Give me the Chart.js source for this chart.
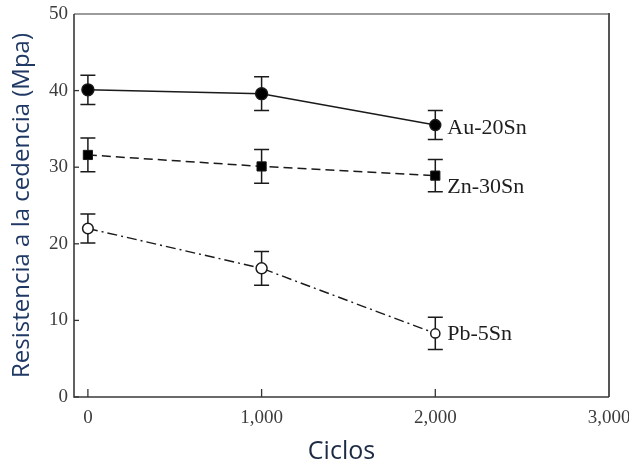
<!DOCTYPE html>
<html lang="es">
<head>
<meta charset="UTF-8">
<title>Resistencia a la cedencia vs ciclos</title>
<script src="https://cdn.jsdelivr.net/npm/chart.js"></script>
<style>
  html, body { margin: 0; padding: 0; background: #fff; }
  #wrap { width: 629px; height: 468px; }
</style>
</head>
<body>
<div id="wrap"><canvas id="chart" width="629" height="468"></canvas></div>
<script>
  // data: yield strength (MPa) after thermal cycles, with error bars
  const ciclos = [0, 1000, 2000];
  const au20sn = [40.1, 39.6, 35.5];
  const au20snErr = [1.9, 2.2, 1.9];
  const zn30sn = [31.6, 30.1, 28.9];
  const zn30snErr = [2.2, 2.2, 2.1];
  const pb5sn = [22.0, 16.8, 8.3];
  const pb5snErr = [1.9, 2.2, 2.1];
  const aleaciones = ['Au-20Sn', 'Zn-30Sn', 'Pb-5Sn'];
  const xTicks = [0, 1000, 2000, 3000];
  const yTicks = [0, 10, 20, 30, 40, 50];

  const ink = '#1a1a1a';
  const serif = 'Liberation Serif';

  function pts(vals) {
    return ciclos.map((c, i) => ({ x: c, y: vals[i] }));
  }

  // frame + inward tick marks + error bars, drawn under the points
  const extras = {
    id: 'extras',
    beforeDatasetsDraw(chart) {
      const { ctx, chartArea: a, scales } = chart;
      ctx.save();
      ctx.lineCap = 'butt';
      // frame
      ctx.lineWidth = 2;
      ctx.strokeStyle = '#9c9c9c';
      ctx.beginPath(); ctx.moveTo(a.left, a.top); ctx.lineTo(a.right, a.top); ctx.stroke();
      ctx.strokeStyle = '#555';
      ctx.beginPath(); ctx.moveTo(a.right, a.top - 1); ctx.lineTo(a.right, a.bottom); ctx.stroke();
      ctx.lineWidth = 1.6;
      ctx.strokeStyle = '#3a3a3a';
      ctx.beginPath(); ctx.moveTo(a.left, a.top); ctx.lineTo(a.left, a.bottom); ctx.lineTo(a.right, a.bottom); ctx.stroke();

      // ticks pointing into the plot
      ctx.lineWidth = 1.3;
      ctx.strokeStyle = '#333';
      scales.x.ticks.forEach(t => {
        const px = scales.x.getPixelForValue(t.value);
        if (px >= a.right - 1) return;
        ctx.beginPath(); ctx.moveTo(px, a.bottom); ctx.lineTo(px, a.bottom - 8); ctx.stroke();
      });
      scales.y.ticks.forEach(t => {
        const py = scales.y.getPixelForValue(t.value);
        if (py <= a.top + 1) return;
        ctx.beginPath(); ctx.moveTo(a.left, py); ctx.lineTo(a.left + 5, py); ctx.stroke();
      });

      // error bars
      ctx.lineWidth = 1.5;
      ctx.strokeStyle = ink;
      chart.data.datasets.forEach(ds => {
        ds.data.forEach((p, i) => {
          const px = scales.x.getPixelForValue(p.x);
          const hi = scales.y.getPixelForValue(p.y + ds.err[i]);
          const lo = scales.y.getPixelForValue(p.y - ds.err[i]);
          const w = 7.5;
          ctx.beginPath();
          ctx.moveTo(px, hi); ctx.lineTo(px, lo);
          ctx.moveTo(px - w, hi); ctx.lineTo(px + w, hi);
          ctx.moveTo(px - w, lo); ctx.lineTo(px + w, lo);
          ctx.stroke();
        });
      });
      ctx.restore();
    },
    // alloy names beside the last point of each series
    afterDatasetsDraw(chart) {
      const { ctx, scales } = chart;
      const dy = [3, 12, 1];
      ctx.save();
      ctx.font = '22px "' + serif + '"';
      ctx.fillStyle = '#1e1e1e';
      ctx.textAlign = 'left';
      ctx.textBaseline = 'middle';
      chart.data.datasets.forEach((ds, k) => {
        const last = ds.data[ds.data.length - 1];
        const px = scales.x.getPixelForValue(last.x);
        const py = scales.y.getPixelForValue(last.y);
        ctx.fillText(ds.label, px + 12, py + dy[k]);
      });
      ctx.restore();
    }
  };

  new Chart(document.getElementById('chart'), {
    type: 'line',
    data: {
      datasets: [
        {
          label: aleaciones[0], data: pts(au20sn), err: au20snErr,
          borderColor: ink, borderWidth: 1.5,
          pointStyle: 'circle', pointRadius: [6, 6, 5.5],
          pointBackgroundColor: '#000', pointBorderColor: ink, pointBorderWidth: 1.4
        },
        {
          label: aleaciones[1], data: pts(zn30sn), err: zn30snErr,
          borderColor: ink, borderWidth: 1.5, borderDash: [9, 5],
          pointStyle: 'rect', pointRadius: 6.5,
          pointBackgroundColor: '#000', pointBorderColor: ink, pointBorderWidth: 1
        },
        {
          label: aleaciones[2], data: pts(pb5sn), err: pb5snErr,
          borderColor: ink, borderWidth: 1.4, borderDash: [10, 4, 2, 4],
          pointStyle: 'circle', pointRadius: [5.3, 5.5, 4.6],
          pointBackgroundColor: '#fff', pointBorderColor: ink, pointBorderWidth: 1.5
        }
      ]
    },
    options: {
      responsive: false,
      animation: false,
      events: [],
      layout: { padding: { top: 14, right: 20, left: 0, bottom: 0 } },
      plugins: {
        legend: { display: false },
        tooltip: { enabled: false }
      },
      scales: {
        x: {
          type: 'linear',
          min: -80, max: 3000,
          afterBuildTicks: s => { s.ticks = xTicks.map(v => ({ value: v })); },
          afterFit: s => { s.height = 71; s.paddingLeft = 0; s.paddingRight = 0; },
          grid: { display: false, drawTicks: false, tickLength: 0 },
          border: { display: false },
          ticks: {
            color: '#3c3c3c',
            font: { family: serif, size: 19 },
            padding: 10,
            maxRotation: 0,
            autoSkip: false,
            callback: v => v.toLocaleString('en-US')
          },
          title: {
            display: true,
            text: 'Ciclos',
            color: '#1c2a44',
            font: { family: 'Open Sans', size: 25 },
            padding: { top: 0, bottom: 1 }
          }
        },
        y: {
          min: 0, max: 50,
          afterBuildTicks: s => { s.ticks = yTicks.map(v => ({ value: v })); },
          afterFit: s => { s.width = 74; s.paddingTop = 0; s.paddingBottom = 0; },
          grid: { display: false, drawTicks: false, tickLength: 0 },
          border: { display: false },
          ticks: {
            color: '#3c3c3c',
            font: { family: serif, size: 19 },
            padding: 6,
            autoSkip: false
          },
          title: {
            display: true,
            text: 'Resistencia a la cedencia (Mpa)',
            color: '#1f3864',
            font: { family: 'Open Sans', size: 24 },
            padding: { top: 8, bottom: 0 }
          }
        }
      }
    },
    plugins: [extras]
  });
</script>
</body>
</html>
